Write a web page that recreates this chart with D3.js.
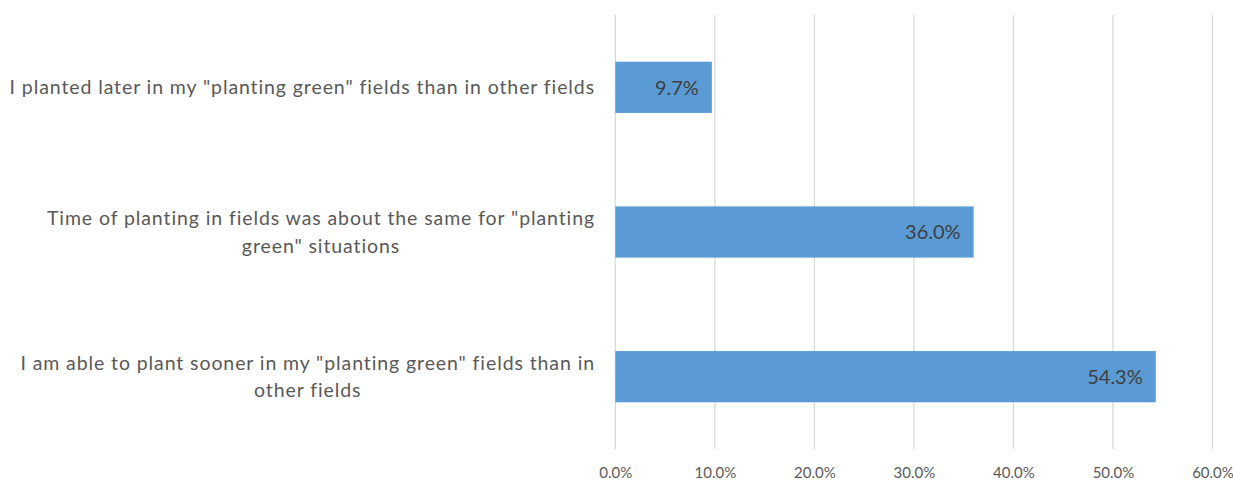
<!DOCTYPE html>
<html>
<head>
<meta charset="utf-8">
<script src="https://cdn.jsdelivr.net/npm/d3@7"></script>
<style>
  html, body { margin: 0; padding: 0; background: #fff; }
  svg { display: block; }
  text { font-family: Lato, "Open Sans", sans-serif; font-variant-ligatures: none; }
</style>
</head>
<body>
<svg id="chart" width="1233" height="481"></svg>
<script>
const categories = [
  'I planted later in my "planting green" fields than in other fields',
  'Time of planting in fields was about the same for "planting green" situations',
  'I am able to plant sooner in my "planting green" fields than in other fields'
];
const values = [0.097, 0.360, 0.543];
const tickValues = [0, 0.1, 0.2, 0.3, 0.4, 0.5, 0.6];

const W = 1233, H = 481;
const plot = { left: 615.3, right: 1212.5, top: 15, bottom: 449 };

const svg = d3.select("#chart");

const x = d3.scaleLinear().domain([0, 0.6]).range([plot.left, plot.right]);
const y = d3.scaleBand().domain(categories).range([plot.top, plot.bottom])
  .paddingInner(0.646).paddingOuter(0.323);

// gridlines
svg.append("g").selectAll("line").data(tickValues).join("line")
  .attr("x1", d => x(d)).attr("x2", d => x(d))
  .attr("y1", plot.top).attr("y2", plot.bottom)
  .attr("stroke", "#d9d9d9").attr("stroke-width", 1.3);

// x axis tick labels
const xAxis = d3.axisBottom(x).tickValues(tickValues).tickFormat(d3.format(".1%")).tickSize(0).tickPadding(0);
const gx = svg.append("g").attr("transform", `translate(0,${plot.bottom})`).call(xAxis);
gx.select(".domain").remove();
gx.selectAll("text").attr("fill", "#595959").attr("font-size", 15)
  .attr("font-family", "Lato, sans-serif").attr("dy", null).attr("y", 29);

// bars
svg.append("g").selectAll("rect").data(categories).join("rect")
  .attr("x", x(0))
  .attr("y", d => y(d))
  .attr("width", (d, i) => x(values[i]) - x(0))
  .attr("height", y.bandwidth())
  .attr("fill", "#5b9bd5");

// data labels
svg.append("g").selectAll("text").data(categories).join("text")
  .attr("x", (d, i) => x(values[i]) - 13)
  .attr("y", d => y(d) + y.bandwidth() / 2)
  .attr("dy", "0.36em")
  .attr("text-anchor", "end")
  .attr("font-size", 20)
  .attr("fill", "#404040")
  .text((d, i) => d3.format(".1%")(values[i]));

// category labels with wrapping
const labelRight = 595;
const maxW = 592;
const fs = 19.5;
const ls = 0.9;
const lineH = 27.5;
const gy = svg.append("g");
categories.forEach(cat => {
  const t = gy.append("text").attr("font-size", fs).attr("fill", "#595959")
    .attr("letter-spacing", ls).attr("text-anchor", "middle");
  const words = cat.split(" ");
  const lines = [];
  let cur = [];
  const probe = gy.append("text").attr("font-size", fs).attr("letter-spacing", ls);
  const measure = s => { probe.text(s); return probe.node().getComputedTextLength(); };
  words.forEach(w => {
    const trial = cur.concat([w]).join(" ");
    if (measure(trial) > maxW && cur.length) {
      lines.push(cur.join(" "));
      cur = [w];
    } else cur.push(w);
  });
  lines.push(cur.join(" "));
  let widest = 0;
  lines.forEach(l => { widest = Math.max(widest, measure(l)); });
  probe.remove();
  const cx = labelRight - widest / 2;
  const cy = y(cat) + y.bandwidth() / 2;
  const startY = cy - (lines.length - 1) * lineH / 2;
  lines.forEach((l, i) => {
    t.append("tspan").attr("x", cx).attr("y", startY + i * lineH).attr("dy", "0.36em").text(l);
  });
});
</script>
</body>
</html>
